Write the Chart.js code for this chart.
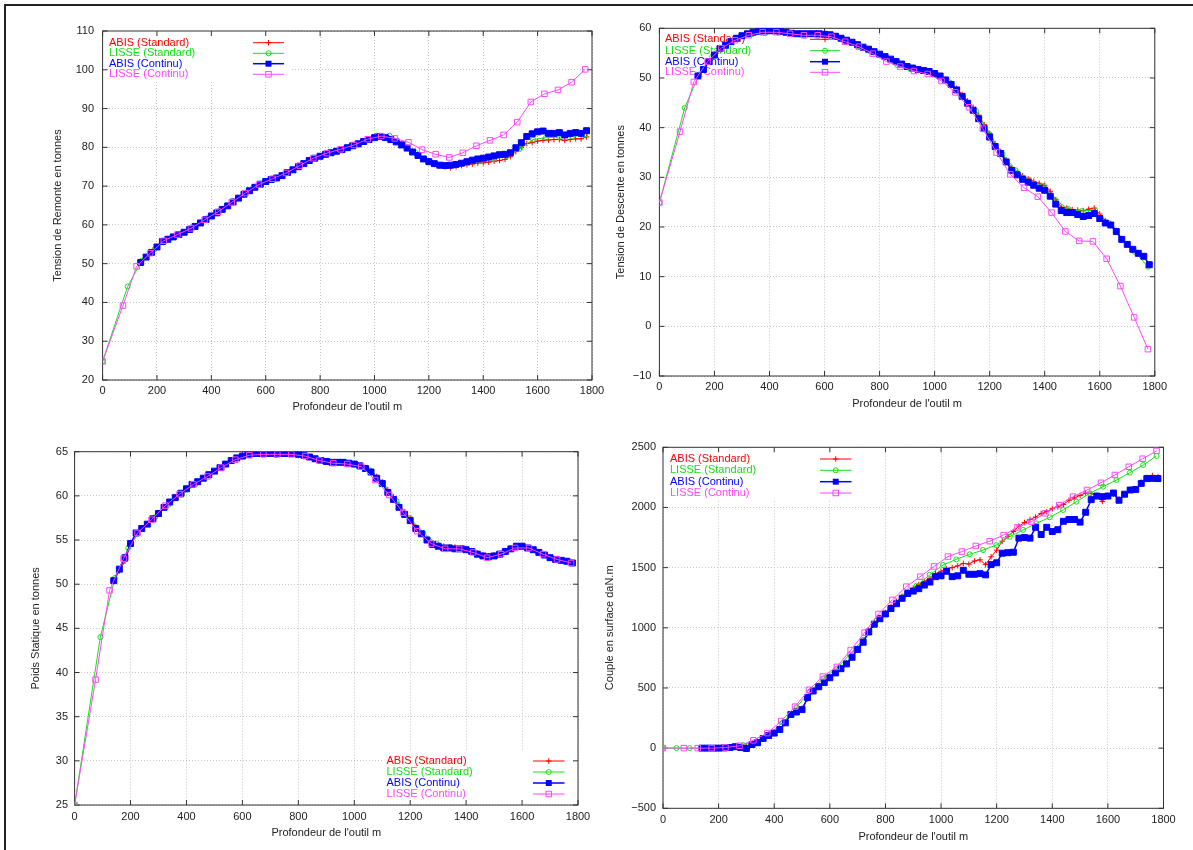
<!DOCTYPE html>
<html>
<head>
<meta charset="utf-8">
<script src="https://cdn.jsdelivr.net/npm/chart.js@4.4.0/dist/chart.umd.min.js"></script>
<style>
  html, body { margin: 0; padding: 0; background: #fff; }
  #page { position: relative; width: 1193px; height: 850px; overflow: hidden; background: #fff; }
  #frame { position: absolute; left: 4px; top: 4px; width: 1300px; height: 900px;
           border-top: 2px solid #222; border-left: 2px solid #222; }
  canvas { position: absolute; }
</style>
</head>
<body>
<div id="page">
  <div id="frame"></div>
  <canvas id="c1"></canvas>
  <canvas id="c2"></canvas>
  <canvas id="c3"></canvas>
  <canvas id="c4"></canvas>
</div>
<script>
// profondeurs (m)
const depthAbis = [140,160,180,200,220,240,260,280,300,320,340,360,380,400,420,440,460,480,500,520,
  540,560,580,600,620,640,660,680,700,720,740,760,780,800,820,840,860,880,900,920,
  940,960,980,1000,1020,1040,1060,1080,1100,1120,1140,1160,1180,1200,1220,1240,1260,1280,1300,1320,
  1340,1360,1380,1400,1420,1440,1460,1480,1500,1520,1540,1560,1580,1600,1620,1640,1660,1680,1700,1720,
  1740,1760,1780];
// LISSE (Standard) : tensions / poids, puis couple
const depthLisseStdT = [0,92,144,192,240,288,336,384,432,480,528,576,624,672,720,768,816,864,912,
  959,1007,1055,1103,1151,1199,1247,1295,1343,1391,1439,1487,1535,1583,1631,1679,1727,1775];
const depthLisseStd = [0,48,96,144,192,240,288,336,384,432,480,528,576,624,672,720,768,816,864,912,
  959,1007,1055,1103,1151,1199,1247,1295,1343,1391,1439,1487,1535,1583,1631,1679,1727,1775];
const depthLisseCont = [0,75,125,175,225,275,325,375,425,475,525,575,625,675,725,775,825,875,925,975,
  1025,1075,1125,1175,1225,1275,1325,1375,1425,1475,1525,1575,1625,1675,1725,1775];

// Tension de Remonte
const remonteAbisStd = [50.3,51.7,52.9,54.3,55.7,56.3,56.9,57.5,58.1,58.8,
  59.6,60.5,61.4,62.3,63.1,64.0,64.9,65.9,66.9,67.9,
  68.8,69.7,70.5,71.2,71.7,72.1,72.7,73.5,74.2,75.0,
  75.8,76.6,77.2,77.7,78.2,78.6,79.0,79.4,79.9,80.4,
  80.9,81.5,82.0,82.5,82.8,82.6,82.1,81.5,80.8,80.0,
  79.0,78.0,77.0,76.2,75.6,75.2,75.0,74.7,75.0,75.3,
  75.5,75.7,75.9,76.0,76.2,76.4,76.6,76.9,77.6,78.9,
  80.0,81.0,81.2,81.6,81.8,81.9,82.0,82.0,81.8,82.0,
  82.2,82.2,82.7];
const remonteLisseStd = [24.8,44.1,50.8,53.8,56.4,57.8,59.5,61.7,63.7,
  66.0,68.3,70.4,71.9,73.3,75.1,76.9,78.2,79.2,80.3,
  81.6,83.0,83.0,81.0,78.6,76.5,75.4,75.3,75.9,76.4,
  77.0,77.8,79.6,82.0,82.5,82.7,82.8,83.3];
const remonteAbisCont = [50.3,51.7,52.9,54.3,55.7,56.3,56.9,57.5,58.1,58.8,
  59.6,60.5,61.4,62.3,63.1,64.0,64.9,65.9,66.9,67.9,
  68.8,69.7,70.5,71.2,71.7,72.1,72.7,73.5,74.2,75.0,
  75.8,76.6,77.2,77.7,78.2,78.6,79.0,79.4,79.9,80.4,
  80.9,81.5,82.0,82.5,82.8,82.5,82.0,81.4,80.6,79.8,
  78.8,77.9,77.0,76.3,75.8,75.4,75.3,75.4,75.6,75.9,
  76.3,76.7,77.0,77.2,77.5,77.8,78.1,78.2,78.6,79.9,
  81.2,82.8,83.5,84.0,84.2,83.6,83.6,83.8,83.2,83.6,
  83.8,83.6,84.3];
const remonteLisseCont = [24.8,39.2,49.3,52.7,55.9,57.5,59.1,61.3,63.4,65.8,
  68.2,70.4,71.9,73.4,75.3,77.2,78.5,79.5,80.6,82.1,
  82.9,82.3,81.3,79.4,78.2,77.4,78.6,80.4,81.8,83.2,
  86.5,91.7,93.8,94.8,96.8,100.1];

// Tension de Descente
const descenteAbisStd = [50.4,51.7,53.3,54.6,55.9,56.6,57.3,58.0,58.5,58.9,
  59.2,59.4,59.5,59.5,59.5,59.4,59.2,59.0,58.9,58.9,
  58.9,58.9,58.9,58.8,58.7,58.4,58.0,57.6,57.2,56.7,
  56.2,55.8,55.3,54.8,54.3,53.8,53.3,52.8,52.3,52.0,
  51.7,51.5,51.3,50.9,50.4,49.7,48.9,47.9,46.7,45.4,
  44.1,42.5,40.6,38.8,36.8,35.2,33.5,31.9,31.0,30.3,
  29.7,29.2,28.8,28.4,27.2,25.5,24.0,23.8,23.5,23.4,
  23.3,23.6,23.8,22.6,21.3,20.7,19.3,17.7,16.6,15.5,
  14.8,14.0,12.6];
const descenteLisseStd = [24.9,44.0,50.7,54.3,56.6,58.1,58.8,59.0,59.1,
  58.8,58.5,58.5,58.3,57.2,56.4,55.3,54.2,52.6,51.8,
  51.4,50.6,49.1,46.2,43.3,38.7,34.7,31.4,29.5,28.3,
  25.4,23.6,23.2,23.4,20.8,17.5,15.0,12.0];
const descenteAbisCont = [50.4,51.7,53.3,54.6,55.9,56.6,57.3,58.0,58.5,58.9,
  59.2,59.4,59.5,59.5,59.5,59.4,59.2,59.0,58.9,58.9,
  58.9,58.9,58.9,58.8,58.7,58.4,58.0,57.6,57.2,56.7,
  56.2,55.8,55.3,54.8,54.3,53.8,53.3,52.8,52.3,52.0,
  51.7,51.5,51.3,50.9,50.4,49.6,48.7,47.6,46.3,44.9,
  43.5,41.8,39.8,38.1,36.2,34.8,33.1,31.4,30.5,29.6,
  29.0,28.4,27.8,27.4,26.2,24.6,23.3,22.9,22.9,22.5,
  22.1,22.3,22.7,21.7,20.8,20.4,19.1,17.5,16.5,15.5,
  14.7,14.1,12.4];
const descenteLisseCont = [24.9,39.2,49.2,53.3,56.0,57.6,58.6,59.2,59.2,58.9,
  58.6,58.6,58.3,57.3,56.3,54.9,53.3,52.3,51.4,50.8,
  49.4,47.1,44.1,39.8,35.0,30.6,27.9,26.1,22.9,19.1,
  17.2,17.1,13.6,8.1,1.8,-4.6];

// Poids Statique
const statiqueAbisStd = [50.4,51.5,52.6,54.4,55.8,56.3,56.8,57.4,58.0,58.7,
  59.3,59.8,60.3,60.8,61.3,61.6,62.0,62.4,62.8,63.2,
  63.6,64.0,64.3,64.5,64.7,64.8,64.8,64.8,64.8,64.8,
  64.8,64.8,64.8,64.7,64.6,64.4,64.2,64.0,63.9,63.8,
  63.8,63.8,63.7,63.6,63.4,63.2,62.8,62.2,61.6,60.7,
  59.9,59.0,58.2,57.4,56.5,55.8,55.1,54.6,54.4,54.3,
  54.2,54.2,54.1,54.0,53.8,53.5,53.3,53.2,53.3,53.5,
  53.8,54.1,54.3,54.3,54.1,53.9,53.6,53.3,53.0,52.8,
  52.7,52.6,52.4];
const statiqueLisseStd = [25.0,44.0,50.7,54.1,56.3,57.6,59.0,60.1,61.3,
  62.3,63.2,64.1,64.6,64.7,64.6,64.7,64.6,64.2,63.9,
  63.8,63.6,62.9,61.5,59.4,57.5,55.8,54.6,54.2,54.1,
  53.5,53.2,53.6,54.3,54.1,53.4,52.9,52.5];
const statiqueAbisCont = [50.4,51.7,53.0,54.6,55.8,56.3,56.8,57.4,58.0,58.7,
  59.3,59.8,60.3,60.8,61.3,61.6,62.0,62.4,62.8,63.2,
  63.6,64.0,64.3,64.5,64.7,64.8,64.8,64.8,64.8,64.8,
  64.8,64.8,64.8,64.7,64.6,64.4,64.2,64.0,63.9,63.8,
  63.8,63.8,63.7,63.6,63.4,63.1,62.7,62.0,61.4,60.4,
  59.6,58.7,57.9,57.2,56.3,55.7,55.0,54.5,54.3,54.1,
  54.1,54.0,54.0,53.9,53.7,53.4,53.2,53.1,53.2,53.4,
  53.7,54.0,54.3,54.3,54.1,53.9,53.6,53.3,53.0,52.8,
  52.7,52.6,52.4];
const statiqueLisseCont = [25.0,39.2,49.3,52.9,55.8,57.3,58.9,60.2,61.3,62.2,
  63.2,64.1,64.6,64.7,64.7,64.7,64.5,64.0,63.7,63.6,
  63.3,61.8,60.1,58.1,56.0,54.6,54.0,54.0,53.6,53.0,
  53.4,54.1,54.1,53.4,52.8,52.4];

// Couple en surface
const coupleAbisStd = [0,0,0,0,0,5,10,15,20,35,
  60,85,110,130,160,215,275,310,330,410,
  470,515,555,595,635,670,710,760,830,895,
  975,1040,1085,1125,1175,1220,1260,1300,1330,1360,
  1385,1410,1450,1470,1490,1500,1515,1535,1530,1555,
  1565,1525,1590,1645,1720,1760,1800,1845,1875,1900,
  1920,1950,1965,1990,2005,2025,2060,2080,2100,2120,
  2115,2100,2050,2100,2110,2070,2110,2150,2150,2210,
  2250,2265,2255];
const coupleLisseStd = [0,0,0,0,0,5,25,55,120,215,
  340,470,580,660,780,900,1060,1160,1260,1350,
  1440,1522,1569,1611,1646,1688,1757,1813,1868,1918,
  1979,2048,2118,2173,2228,2289,2353,2428];
const coupleAbisCont = [0,0,0,0,2,5,12,5,-3,30,
  45,80,105,125,155,210,280,300,320,420,
  475,510,545,585,625,660,700,755,820,880,
  965,1030,1075,1115,1160,1200,1245,1285,1305,1325,
  1355,1380,1425,1432,1470,1425,1432,1478,1445,1445,
  1450,1440,1525,1540,1620,1624,1628,1745,1750,1745,
  1835,1775,1835,1800,1815,1885,1900,1900,1878,1960,
  2065,2095,2090,2095,2120,2060,2110,2145,2150,2200,
  2240,2242,2240];
const coupleLisseCont = [0,0,0,0,5,20,65,125,225,345,
  485,595,675,815,960,1115,1232,1342,1425,1510,
  1592,1633,1680,1720,1770,1835,1882,1952,2020,2090,
  2145,2205,2270,2338,2405,2470];

const seriesNames = ['ABIS (Standard)', 'LISSE (Standard)', 'ABIS (Continu)', 'LISSE (Continu)'];
const yTitles = ['Tension de Remonte en tonnes', 'Tension de Descente en tonnes',
  'Poids Statique en tonnes', 'Couple en surface daN.m'];
const xTitle = "Profondeur de l'outil m";
const xMin = 0, xMax = 1800, xStep = 200;
const yMins = [20, -10, 25, -500];
const yMaxs = [110, 60, 65, 2500];
const ySteps = [10, 10, 5, 500];

const panelData = [
  [remonteAbisStd, remonteLisseStd, remonteAbisCont, remonteLisseCont],
  [descenteAbisStd, descenteLisseStd, descenteAbisCont, descenteLisseCont],
  [statiqueAbisStd, statiqueLisseStd, statiqueAbisCont, statiqueLisseCont],
  [coupleAbisStd, coupleLisseStd, coupleAbisCont, coupleLisseCont]
];
const tensionDepths = [depthAbis, depthLisseStdT, depthAbis, depthLisseCont];
const panelDepths = [tensionDepths, tensionDepths, tensionDepths,
  [depthAbis, depthLisseStd, depthAbis, depthLisseCont]];

// mise en page (coordonnees de la page)
const layout = [
  { id: 'c1', cv: [0, 10, 615, 410], plot: [102.6, 31, 592, 380], yTitleX: 57.5, xTitleY: 407, tickGap: 8.5, xPad: 4,
    leg: { textX: 109, rows: [42.7, 53.3, 63.7, 74.3], line: [253, 284], box: [102.6, 31, 291, 80] } },
  { id: 'c2', cv: [600, 10, 593, 410], plot: [659.4, 28.3, 1154.8, 376], yTitleX: 620.8, xTitleY: 404, tickGap: 8, xPad: 4.5,
    leg: { textX: 665, rows: [39.3, 50.7, 61.7, 72.3], line: [810, 840], box: [659.4, 28.3, 846, 79] } },
  { id: 'c3', cv: [0, 430, 600, 420], plot: [74.6, 451.7, 578, 805], yTitleX: 36.4, xTitleY: 833.3, tickGap: 6.5, xPad: 5,
    leg: { textX: 386.5, rows: [761, 772, 783, 794], line: [533, 564.5], box: [382, 752, 578, 805] } },
  { id: 'c4', cv: [600, 430, 593, 420], plot: [663, 447.3, 1163.5, 808.3], yTitleX: 610, xTitleY: 837, tickGap: 7, xPad: 5,
    leg: { textX: 670, rows: [459, 470.3, 481.7, 493], line: [820, 851.5], box: [663, 447.3, 857, 499] } }
];

const styles = [
  { color: 'rgb(255,0,0)', point: 'cross', radius: 2.8, fill: false, width: 1, order: 4 },
  { color: 'rgb(20,225,20)', point: 'circle', radius: 2.5, fill: false, width: 1, order: 3 },
  { color: 'rgb(0,0,255)', point: 'rect', radius: 4.2, fill: true, width: 1.5, order: 2 },
  { color: 'rgb(255,70,255)', point: 'rect', radius: 3.9, fill: false, width: 1, order: 1 }
];

const FONT = '"Liberation Sans", Arial, sans-serif';
Chart.defaults.font.family = FONT;
Chart.defaults.font.size = 11;
Chart.defaults.color = '#222';

function drawMarker(ctx, st, x, y) {
  ctx.beginPath();
  if (st.point === 'cross') {
    ctx.moveTo(x - st.radius, y); ctx.lineTo(x + st.radius, y);
    ctx.moveTo(x, y - st.radius); ctx.lineTo(x, y + st.radius);
    ctx.stroke();
  } else if (st.point === 'circle') {
    ctx.arc(x, y, st.radius, 0, Math.PI * 2);
    ctx.stroke();
  } else {
    const s = st.radius * Math.SQRT1_2;
    if (st.fill) { ctx.fillRect(x - s, y - s, 2 * s, 2 * s); }
    else { ctx.strokeRect(x - s, y - s, 2 * s, 2 * s); }
  }
}

// cadre, petites graduations internes et legende facon gnuplot
const gnuPlot = {
  id: 'gnuPlot',
  beforeDatasetsDraw(chart, args, opts) {
    const ctx = chart.ctx;
    const a = chart.chartArea;
    const b = opts.box;
    ctx.save();
    ctx.fillStyle = '#fff';
    ctx.fillRect(b[0], b[1], b[2] - b[0], b[3] - b[1]);

    ctx.strokeStyle = '#333';
    ctx.lineWidth = 1;
    ctx.strokeRect(a.left, a.top, a.right - a.left, a.bottom - a.top);
    ctx.beginPath();
    const xs = chart.scales.x, ys = chart.scales.y;
    xs.ticks.forEach(t => {
      const px = xs.getPixelForValue(t.value);
      ctx.moveTo(px, a.bottom); ctx.lineTo(px, a.bottom - 5);
      ctx.moveTo(px, a.top); ctx.lineTo(px, a.top + 5);
    });
    ys.ticks.forEach(t => {
      const py = ys.getPixelForValue(t.value);
      ctx.moveTo(a.left, py); ctx.lineTo(a.left + 5, py);
      ctx.moveTo(a.right, py); ctx.lineTo(a.right - 5, py);
    });
    ctx.stroke();

    ctx.font = '11px ' + FONT;
    ctx.textBaseline = 'middle';
    ctx.textAlign = 'left';
    styles.forEach((st, i) => {
      const y = opts.rows[i];
      ctx.fillStyle = st.color;
      ctx.strokeStyle = st.color;
      ctx.fillText(seriesNames[i], opts.textX, y);
      ctx.lineWidth = st.width;
      ctx.beginPath();
      ctx.moveTo(opts.line[0], y); ctx.lineTo(opts.line[1], y);
      ctx.stroke();
      ctx.lineWidth = 1;
      drawMarker(ctx, st, (opts.line[0] + opts.line[1]) / 2, y);
    });
    ctx.restore();
  }
};

function fmt(v) { return String(v).replace('-', '\u2212'); }

layout.forEach((p, k) => {
  const canvas = document.getElementById(p.id);
  const [cl, ct, cw, ch] = p.cv;
  const [L, T, R, B] = p.plot;
  canvas.width = cw; canvas.height = ch;
  canvas.style.left = cl + 'px'; canvas.style.top = ct + 'px';
  canvas.style.width = cw + 'px'; canvas.style.height = ch + 'px';

  const datasets = styles.map((st, i) => ({
    label: seriesNames[i],
    data: panelDepths[k][i].map((d, j) => ({ x: d, y: panelData[k][i][j] })),
    borderColor: st.color,
    backgroundColor: st.fill ? st.color : 'rgba(0,0,0,0)',
    pointBorderColor: st.color,
    pointBackgroundColor: st.fill ? st.color : 'rgba(0,0,0,0)',
    pointStyle: st.point,
    pointRadius: st.radius,
    pointBorderWidth: 1,
    borderWidth: st.width,
    order: st.order
  }));

  new Chart(canvas, {
    type: 'line',
    data: { datasets: datasets },
    options: {
      responsive: false,
      animation: false,
      devicePixelRatio: 1,
      layout: { padding: { top: T - ct, right: cl + cw - R, left: 0, bottom: 0 } },
      plugins: {
        legend: { display: false },
        tooltip: { enabled: false },
        gnuPlot: {
          textX: p.leg.textX - cl,
          rows: p.leg.rows.map(r => r - ct),
          line: p.leg.line.map(v => v - cl),
          box: [p.leg.box[0] - cl, p.leg.box[1] - ct, p.leg.box[2] - cl, p.leg.box[3] - ct]
        }
      },
      scales: {
        x: {
          type: 'linear', min: xMin, max: xMax,
          ticks: { stepSize: xStep, padding: p.xPad, maxRotation: 0, autoSkip: false, callback: fmt, color: '#222' },
          grid: { color: '#c4c4c4', drawTicks: false },
          border: { display: false, dash: [1, 2] },
          title: { display: true, text: xTitle, color: '#222', padding: { top: 0, bottom: ct + ch - p.xTitleY - 6.6 } },
          afterFit: s => { s.height = ct + ch - B; }
        },
        y: {
          type: 'linear', min: yMins[k], max: yMaxs[k],
          ticks: { stepSize: ySteps[k], padding: p.tickGap, autoSkip: false, callback: fmt, color: '#222' },
          grid: { color: '#c4c4c4', drawTicks: false },
          border: { display: false, dash: [1, 2] },
          title: { display: true, text: yTitles[k], color: '#222', padding: { top: p.yTitleX - cl - 6.6, bottom: 0 } },
          afterFit: s => { s.width = L - cl; }
        }
      }
    },
    plugins: [gnuPlot]
  });
});
</script>
</body>
</html>
